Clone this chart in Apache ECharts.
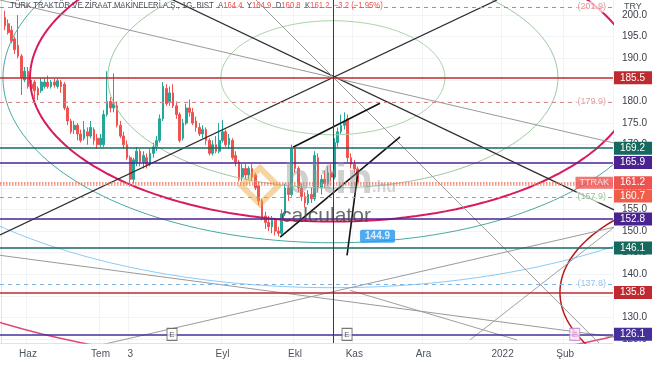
<!DOCTYPE html>
<html><head><meta charset="utf-8">
<script src="https://cdn.jsdelivr.net/npm/echarts@6/dist/echarts.min.js"></script>
<style>html,body{margin:0;padding:0;background:#fff}#c{width:654px;height:366px}</style>
</head><body><div id="c"></div><script>
// ---------------- data ----------------
const barCount = 186;          // bars visible across the plot (incl. empty future space)
const firstBar = 1;            // index of first candle
const opens  = [199.5,198,196.5,194.5,193,190.5,185,187,184,184.5,183,182.5,183.5,184.5,183.5,184.5,183.5,184.5,184,178.5,175.5,173.5,174.5,172.5,171.5,173,172,173.5,171.5,170,170,177,180,178.5,179,174.5,172,170,167,162,166,168.5,166,167,165.5,168,169.5,171,176,183,180,182,179,177,171.5,175,178.5,177.5,175.5,174,172.5,173.5,171,168,170,168.5,171,173,170,171,167.5,166,162.5,164.5,163,164.5,163,160.5,157,153.5,152,151,152.5,150,149.5,154,160,158.5,169,164.5,160,158,156.5,158.5,157.5,167,160,162,161,163.5,162.5,170.5,173,174.5,176,167,165.5,164.4];
const closes = [197.5,196,194,192,190.5,185.5,187,183.5,183,182.5,181.5,184.5,184.5,183.5,184.5,183.8,184.8,183.5,178.5,175.5,173,174.5,172.5,171,173.5,172,174,171,170,171.5,177,180,178.5,179.5,174.5,172,170,167,162,166.5,168.5,166,167.5,165.5,168,169.5,171,176,183.5,179.5,182,179,177,171,175,178.5,177.5,175,174,172.5,173.5,171,168,170,168.5,171,173,170,171.5,167,166,162,164.5,163,164.5,162.5,160,157,153,152,151,152.5,150,149.5,154,160,158.5,169,164.5,160,158,156.5,158.5,157.5,167.5,160,162,161,163.5,162.5,170.5,173,174.5,175.5,167,165.5,164.4,161.2];
const lows   = [196.5,195.5,193.5,191,190,181.5,184.5,183,182,180.5,180.3,182,183,183,183,183.2,183,182,178,174.5,172.5,172.5,171,170.5,171,170,171.5,170,169,169.5,169.5,176.5,177.5,177.5,174,171.5,169,166.5,160.3,161,165,165,164.5,164.5,165,167,168.5,170.5,175.5,179,179,178.5,176,170.5,171,174.5,176.5,174.5,173,172,171.5,170,167.5,167.5,168,168,170.5,169.5,169,166.5,165,161.5,161.5,162,162,161.5,159.5,156,152.5,150.5,150,149.5,149,148.8,149,153.5,157,158,163.5,159,157,155.5,156,156.5,157,159,158.5,160,160.5,161.5,162,169.5,172.5,173.5,166,164.5,163.5,160.8];
const highs  = [201,199,197.5,195,200,191,188,188,185,185,183.5,185.5,185.5,186,185,185.2,185.3,185,184.5,179,176,175.5,175,173.5,175.5,174,175.5,174,172.5,172.5,178,187,181,186.5,180,175.5,173,171,167.5,167,169.5,169,168.5,168,169,170.5,172,177,184.5,184,183.5,184,180,177.5,176,179.5,180.5,178.5,176.5,175,174.5,174,171.5,171,172,175,175.7,173.5,172.5,171.5,168.5,166.5,165.5,165.5,165,165.5,163.5,161.5,157.5,154.5,153.5,153.5,153,151,155,161,161,170,169.5,165,161,159,159.5,160,168.5,168,163,164,165,165.5,171.5,174,177,177.5,177,168,166.5,164.9];

// x-axis month labels (bar index -> text)
const monthIdx   = [8, 30, 39, 67, 89, 107, 128, 152, 171];
const monthNames = ['Haz','Tem','3','Eyl','Ekl','Kas','Ara','2022','Şub'];
// y-axis tick labels
const yTicks = [125,130,135,140,145,150,155,160,165,170,175,180,185,190,195,200];
const yMin = 124.1, yMax = 203.5;

// solid horizontal levels with price tags
const levelValues = [185.5, 169.2, 165.9, 152.8, 146.1, 135.8, 126.1];
const levelColors = ['#be2a30','#16695f','#4b2390','#4b2390','#16695f','#be2a30','#45309a'];
// current price lines
const priceLineValues = [161.2, 160.7];
// dashed projected levels
const dashedValues = [201.9, 179.9, 157.9, 137.8];
const dashedColors = ['#e57373','#d88a8a','#7cb87f','#7fb3e6'];

// ellipses: [centre bar, centre price, radius in bars, radius in price]
const ellipses = [
  [100.5, 185.5, 34.0, 13.2],
  [100.5, 185.5, 68.3, 25.5],
  [100.5, 185.5, 91.9, 33.3],
  [100.5, 185.5, 100.1, 38.2],
  [100.5, 185.5, 142.9, 48.6],
  [100.5, 185.5, 188.7, 67.1],
  [242.2, 135.8, 72.8, 26.4]
];
const ellipseColors = ['#a9d3a9','#9cc79c','#d81b60','#4aa8a0','#8ccaf0','#e2457e','#b71c1c'];
const ellipseWidths = [1, 1, 2, 1, 1, 1.5, 1.5];

// straight drawing lines: [[bar, price],[bar, price]]
const fanLines = [
  [[-0.5,149.1],[150.3,203.5]],
  [[52.0,203.5],[185.8,154.9]],
  [[-0.5,203.5],[185.8,170.4]],
  [[77.2,203.5],[181.2,124.1]],
  [[-0.5,144.4],[185.8,125.5]],
  [[-0.5,118.3],[185.8,150.9]],
  [[105.7,136.3],[156.4,124.8]],
  [[142.1,124.8],[185.8,150.9]]
];
const fanColors = ['#2e2e2e','#2e2e2e','#9a9a9a','#9a9a9a','#9a9a9a','#9a9a9a','#a0a0a0','#a0a0a0'];
const channelLines = [
  [[88.4,169.4],[114.8,179.6]],
  [[84.5,148.6],[120.9,171.8]],
  [[104.8,144.4],[108.1,163.7]]
];
const centerBar = 100.5;
const earnBars = [51.7, 104.8, 173.9];
const earnPrice = 126.1;
const calloutPoint = [104.8, 144.9];

// ---------------- build ----------------
const categories = Array.from({length: barCount}, (_, i) => String(i));
const candleData = categories.map(() => '-');
opens.forEach((o, k) => { candleData[firstBar + k] = [o, closes[k], lows[k], highs[k]]; });
const monthMap = {};
monthIdx.forEach((ix, k) => monthMap[ix] = monthNames[k]);

function ellipsePts(e) {
  const pts = [];
  for (let d = 0; d <= 360; d += 2) {
    const t = d * Math.PI / 180;
    pts.push([e[0] + e[2] * Math.cos(t), e[1] + e[3] * Math.sin(t)]);
  }
  return pts;
}

const series = [];
series.push({
  type: 'candlestick', xAxisIndex: 0, yAxisIndex: 0, data: candleData, barWidth: 2.2,
  itemStyle: {color: '#26a69a', color0: '#ef5350', borderColor: '#26a69a', borderColor0: '#ef5350', borderWidth: 1},
  z: 2
});
ellipses.forEach((e, k) => series.push({
  type: 'line', xAxisIndex: 1, yAxisIndex: 0, data: ellipsePts(e), showSymbol: false, silent: true,
  clip: true, lineStyle: {color: ellipseColors[k], width: ellipseWidths[k]}, z: 3
}));
fanLines.forEach((l, k) => series.push({
  type: 'line', xAxisIndex: 1, yAxisIndex: 0, data: l, showSymbol: false, silent: true, clip: true,
  lineStyle: {color: fanColors[k], width: k < 2 ? 1.3 : 1}, z: 3
}));
channelLines.forEach(l => series.push({
  type: 'line', xAxisIndex: 1, yAxisIndex: 0, data: l, showSymbol: false, silent: true, clip: true,
  lineStyle: {color: '#151515', width: 1.6}, z: 4
}));
// horizontal levels, tags, vertical line
const mlData = [];
levelValues.forEach((v, k) => mlData.push({
  yAxis: v, lineStyle: {color: levelColors[k], width: 1.6, type: 'solid'},
  label: {show: true, position: 'end', distance: 1, formatter: v.toFixed(1), color: '#fff',
          backgroundColor: levelColors[k], padding: [2, 7, 1, 6], fontSize: 10, fontFamily: 'Liberation Sans'}
}));
priceLineValues.forEach((v, k) => mlData.push({
  yAxis: v, lineStyle: {color: k ? '#f08a6a' : '#ef6f5f', width: 1.5, type: 'dotted'},
  label: {show: true, position: 'end', distance: 1, formatter: v.toFixed(1), color: '#fff',
          backgroundColor: k ? '#f25c4a' : '#ef5350', padding: [2, 7, 1, 6], fontSize: 10,
          offset: k ? [0, 11] : [0, 0], fontFamily: 'Liberation Sans'}
}));
dashedValues.forEach((v, k) => mlData.push({
  yAxis: v, lineStyle: {color: dashedColors[k], width: 1, type: [4, 4]}, label: {show: false}
}));
mlData.push({xAxis: centerBar, lineStyle: {color: '#3a3a3a', width: 1, type: 'solid'}, label: {show: false}});
series.push({
  type: 'line', xAxisIndex: 1, yAxisIndex: 0, data: [], silent: true, z: 5,
  markLine: {symbol: ['none', 'none'], silent: true, animation: false, data: mlData}
});
// text labels on dashed levels + TTRAK + callout
const labelPts = dashedValues.map((v, k) => ({
  value: [185.5, v],
  label: {formatter: '(' + v.toFixed(1) + ')', color: dashedColors[k], backgroundColor: 'rgba(255,255,255,0.85)'}
}));
labelPts.push({value: [185.5, priceLineValues[0]],
  label: {formatter: 'TTRAK', color: '#fff', backgroundColor: '#ef5350', padding: [2, 4, 1, 4], distance: 0}});
series.push({
  type: 'scatter', xAxisIndex: 1, yAxisIndex: 0, symbolSize: 0, silent: true, z: 8, data: labelPts,
  label: {show: true, position: 'left', distance: 6, fontSize: 9, fontFamily: 'Liberation Sans', padding: [1, 1]}
});
series.push({
  type: 'scatter', xAxisIndex: 1, yAxisIndex: 0, symbolSize: 0, silent: true, z: 9,
  data: [{value: calloutPoint}],
  label: {show: true, position: 'right', distance: 5, offset: [8, -17], formatter: calloutPoint[1].toFixed(1),
          color: '#fff', backgroundColor: '#2196f3', fontWeight: 'bold', fontSize: 10, padding: [2, 5, 1, 5],
          borderRadius: 2, fontFamily: 'Liberation Sans'}
});
series.push({
  type: 'scatter', xAxisIndex: 1, yAxisIndex: 0, symbol: 'rect', symbolSize: [10, 12], silent: true, z: 9,
  data: earnBars.map((b, k) => ({value: [b, earnPrice],
    itemStyle: k < 2 ? {color: '#fff', borderColor: '#555', borderWidth: 1} : {color: '#fae3f6', borderColor: '#c77dd0', borderWidth: 1},
    label: {color: k < 2 ? '#333' : '#c070c8'}})),
  label: {show: true, position: 'inside', formatter: 'E', fontSize: 8, fontFamily: 'Liberation Sans'}
});

const option = {
  animation: false,
  backgroundColor: '#ffffff',
  grid: {left: 0, right: 41, top: 0, bottom: 23, containLabel: false},
  xAxis: [
    {type: 'category', data: categories, boundaryGap: true,
     axisLine: {show: true, lineStyle: {color: '#e0e3eb'}}, axisTick: {show: false},
     axisLabel: {interval: (i) => monthMap[i] !== undefined, formatter: (v, i) => monthMap[i] || '',
                 color: '#4c525e', fontSize: 10, margin: 6, fontFamily: 'Liberation Sans'},
     splitLine: {show: true, interval: (i) => monthMap[i] !== undefined, lineStyle: {color: '#f1f3f7'}}},
    {type: 'value', min: -0.5, max: barCount - 0.5, show: false}
  ],
  yAxis: [{
    type: 'value', position: 'right', min: yMin, max: yMax, scale: true,
    axisLine: {show: true, lineStyle: {color: '#e0e3eb'}}, axisTick: {show: false, customValues: yTicks},
    axisLabel: {customValues: yTicks, formatter: v => v.toFixed(1), color: '#3a3e48', fontSize: 10,
                margin: 9, fontFamily: 'Liberation Sans'},
    splitLine: {show: true, lineStyle: {color: '#f1f3f7'}}
  }],
  series: series,
  graphic: [
    {type: 'text', x: 10, y: 1, scaleX: 0.86, z: 50, silent: true,
     style: {text: '{n|TÜRK TRAKTÖR VE ZİRAAT MAKİNELERİ A.Ş., 1G, BIST}  {g|A}{r|164.4}  {g|Y}{r|164.9}  {g|D}{r|160.8}  {g|K}{r|161.2}  {r|−3.2 (−1.95%)}',
            fontSize: 9, fontFamily: 'Liberation Sans',
            rich: {n: {fill: '#4a4e58', color: '#4a4e58', fontSize: 9}, g: {fill: '#4a4e58', color: '#4a4e58', fontSize: 9},
                   r: {fill: '#ef5350', color: '#ef5350', fontSize: 9}}}},
    {type: 'text', x: 624, y: 2, z: 50, silent: true,
     style: {text: 'TRY', fontSize: 9, fill: '#4a4e58', fontFamily: 'Liberation Sans'}},
    {type: 'polygon', z: 40, silent: true, shape: {points: [[260, 168], [278, 186], [260, 204], [242, 186]]},
     style: {fill: 'none', stroke: 'rgba(240,160,50,0.45)', lineWidth: 6}},
    {type: 'text', x: 284, y: 160, z: 40, silent: true,
     style: {text: 'bitin', fontSize: 42, fontWeight: 'bold', fill: 'rgba(150,150,150,0.45)', fontFamily: 'Liberation Sans'}},
    {type: 'text', x: 372, y: 180, z: 40, silent: true,
     style: {text: '.hu', fontSize: 16, fontWeight: 'bold', fill: 'rgba(150,150,150,0.4)', fontFamily: 'Liberation Sans'}},
    {type: 'text', x: 281, y: 206, z: 40, silent: true,
     style: {text: 'calculator', fontSize: 21, fill: 'rgba(70,70,70,0.8)', fontFamily: 'Liberation Sans'}}
  ]
};
const chart = echarts.init(document.getElementById('c'), null, {renderer: 'canvas'});
chart.setOption(option);
</script></body></html>
